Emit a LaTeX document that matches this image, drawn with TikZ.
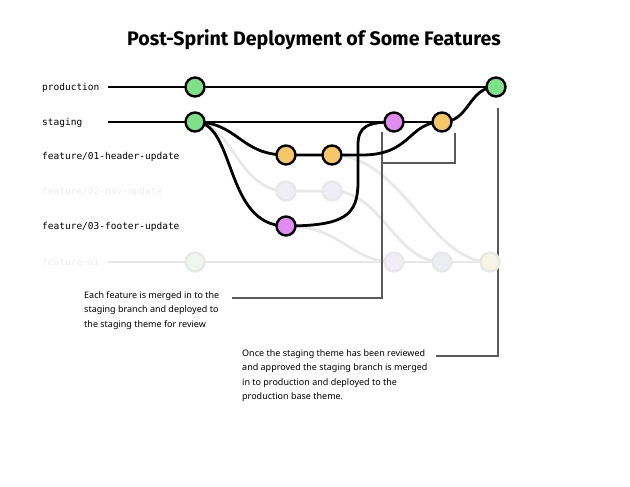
\documentclass[tikz,border=0pt]{standalone}
\usepackage{fontspec}
\setmainfont{Noto Sans}
\newfontfamily\titlef{Fira Sans}
\newfontfamily\monof{DejaVu Sans Mono}
\usetikzlibrary{backgrounds}
\definecolor{cgreen}{HTML}{7FE08A}
\definecolor{corange}{HTML}{F5C76A}
\definecolor{cpink}{HTML}{E08CF0}
\definecolor{fline}{HTML}{E8E8E8}
\definecolor{flav}{HTML}{F1EDF6}
\definecolor{fblue}{HTML}{EAEEF3}
\definecolor{fcream}{HTML}{F8F4E6}
\definecolor{fgreen}{HTML}{EFF6EF}
\definecolor{fgray}{HTML}{EEEEF4}
\definecolor{flabel}{HTML}{EDEDED}
\definecolor{callc}{HTML}{5A5A5A}
\tikzset{
  commit/.style={circle, draw=black, line width=2.4pt, minimum size=19pt, inner sep=0pt},
  fcommit/.style={circle, draw=fline, line width=2.4pt, minimum size=19pt, inner sep=0pt},
  branch/.style={line width=2.8pt, draw=black},
  fbranch/.style={line width=2.8pt, draw=fline},
  callout/.style={line width=1.3pt, draw=callc},
  blabel/.style={font=\monof\fontsize{9.5}{11}\selectfont, anchor=base west, inner sep=0pt},
  note/.style={font=\fontsize{9}{14.5}\selectfont, anchor=north west, align=left, inner sep=0pt},
}
\begin{document}
\begin{tikzpicture}[x=1pt,y=-1pt]
\begin{scope}[on background layer]
\fill[white] (0,0) rectangle (630,487);
\end{scope}
\useasboundingbox (0,0) rectangle (630,487);
\node[font=\titlef\bfseries\fontsize{19.6}{22}\selectfont] (title) at (314,40) {Post-Sprint Deployment of Some Features};
% labels
\node[blabel] (lprod) at (42,90.5) {production};
\node[blabel] (lstag) at (42,125.5) {staging};
\node[blabel] (lf1) at (42,159.5) {feature/01-header-update};
\node[blabel, text=flabel] (lf2) at (42,194.5) {feature/02-nav-update};
\node[blabel] (lf3) at (42,229.5) {feature/03-footer-update};
\node[blabel, text=flabel] (lfu) at (42,265.5) {feature-ui};
% line starts
\coordinate (sprod) at (108,87);
\coordinate (sstag) at (108,122);
\coordinate (sfu) at (108,262);
% commits
\node[commit, fill=cgreen] (p1) at (195,87) {};
\node[commit, fill=cgreen] (p2) at (496,87) {};
\node[commit, fill=cgreen] (s1) at (195,122) {};
\node[commit, fill=cpink] (s2) at (394,122) {};
\node[commit, fill=corange] (s3) at (442,122) {};
\node[commit, fill=corange] (a1) at (286,155) {};
\node[commit, fill=corange] (a2) at (332,155) {};
\node[fcommit, fill=fgray] (b1) at (286,191) {};
\node[fcommit, fill=fgray] (b2) at (332,191) {};
\node[commit, fill=cpink] (c1) at (286,226) {};
\node[fcommit, fill=fgreen] (u1) at (195,262) {};
\node[fcommit, fill=flav] (u2) at (394,262) {};
\node[fcommit, fill=fblue] (u3) at (442,262) {};
\node[fcommit, fill=fcream] (u4) at (490,262) {};
% notes
\node[note] (n1) at (84,291) {Each feature is merged in to the\\staging branch and deployed to\\the staging theme for review};
\node[note] (n2) at (242,349) {Once the staging theme has been reviewed\\and approved the staging branch is merged\\in to production and deployed to the\\production base theme.};
\coordinate (k1) at (232,298);
\coordinate (k2) at (382,298);
\coordinate (k3) at (382,132);
\coordinate (k4) at (382,163);
\coordinate (k5) at (455,163);
\coordinate (k6) at (455,133);
\coordinate (m1) at (436,356);
\coordinate (m2) at (498,356);
\coordinate (m3) at (498,108);
\begin{scope}[on background layer]
  % faded
  \draw[fbranch] (sfu) -- (u1.center) -- (u2.center) -- (u3.center) -- (u4.center);
  \draw[fbranch] (s1.center) .. controls (232,122) and (238,191) .. (b1.center) -- (b2.center);
  \draw[fbranch] (b2.center) .. controls (382,191) and (395,262) .. (u3.center);
  \draw[fbranch] (a2.center) .. controls (402,155) and (430,262) .. (u4.center);
  \draw[fbranch] (c1.center) .. controls (342,226) and (350,262) .. (u2.center);
  % callouts
  \draw[callout] (k1) -- (k2) -- (k3);
  \draw[callout] (k4) -- (k5) -- (k6);
  \draw[callout] (m1) -- (m2) -- (m3);
  % black branches
  \draw[branch] (sprod) -- (p1.center) -- (p2.center);
  \draw[branch] (sstag) -- (s1.center) -- (s2.center) -- (s3.center);
  \draw[branch] (s1.center) .. controls (238,122) and (240,155) .. (a1.center) -- (a2.center);
  \draw[branch] (a2.center) -- (362,155) .. controls (412,155) and (408,122) .. (s3.center);
  \draw[branch] (s1.center) .. controls (236,122) and (224,226) .. (c1.center);
  \draw[branch] (c1.center) .. controls (345,226) and (358,215) .. (358,182) -- (358,145) .. controls (358,126) and (368,122) .. (s2.center);
  \draw[branch] (s3.center) .. controls (470,122) and (468,87) .. (p2.center);
\end{scope}
\end{tikzpicture}
\end{document}
